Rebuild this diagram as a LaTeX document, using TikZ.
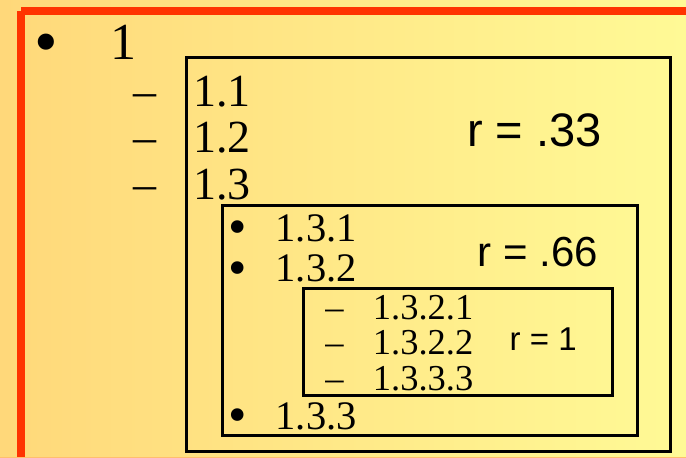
\documentclass[tikz,border=0pt]{standalone}
\usepackage{fontspec}
\setmainfont{Liberation Serif}
\newfontfamily\labfont{Liberation Sans}
\definecolor{bgleft}{RGB}{255,216,122}
\definecolor{bgright}{RGB}{255,250,150}
\definecolor{framered}{RGB}{255,51,0}
\definecolor{edgeorange}{RGB}{255,190,110}
\begin{document}
\begin{tikzpicture}[x=1pt,y=-1pt,
  lbl/.style={anchor=base west,inner sep=0pt},
  symb/.style={anchor=base,inner sep=0pt},
  blt/.style={anchor=base,inner sep=0pt,scale=1.3,text height=0.48em,text depth=0pt},
  rlbl/.style={anchor=base west,inner sep=0pt,font=\labfont},
  boxline/.style={draw=black,line width=3pt},
  fA/.style={font=\fontsize{52}{52}\selectfont},
  fB/.style={font=\fontsize{46}{46}\selectfont},
  fC/.style={font=\fontsize{40.5}{40.5}\selectfont},
  fD/.style={font=\fontsize{36.5}{36.5}\selectfont}]
\useasboundingbox (0,0) rectangle (686,458);
\shade[left color=bgleft,right color=bgright] (0,0) rectangle (686,458);
\draw[framered,line width=8pt] (21,10.5) -- (700,10.5);
\draw[framered,line width=8pt] (21,10.5) -- (21,470);
\draw[edgeorange,line width=1pt] (0,457.5) -- (686,457.5);
% boxes
\draw[boxline] (186,57) rectangle (670,451);
\draw[boxline] (222,205) rectangle (637,435);
\draw[boxline] (303,288) rectangle (612,395);
% level 1
\node[blt,fA] (b1) at (46.7,64.2) {•};
\node[lbl,fA] (t1) at (110,59) {1};
% level 2
\node[symb,fB] (d11) at (145,106) {–};
\node[lbl,fB] (t11) at (193,106) {1.1};
\node[symb,fB] (d12) at (145,152.7) {–};
\node[lbl,fB] (t12) at (193,152.7) {1.2};
\node[symb,fB] (d13) at (145,199.4) {–};
\node[lbl,fB] (t13) at (193,199.4) {1.3};
% level 3
\node[blt,fC] (b131) at (237.5,244.2) {•};
\node[lbl,fC] (t131) at (275.5,241.7) {1.3.1};
\node[blt,fC] (b132) at (237.5,285.5) {•};
\node[lbl,fC] (t132) at (275.5,281.7) {1.3.2};
\node[blt,fC] (b133) at (237.5,432.5) {•};
\node[lbl,fC] (t133) at (275.5,429.3) {1.3.3};
% level 4
\node[symb,fD] (d1321) at (334.5,319.3) {–};
\node[lbl,fD] (t1321) at (372.7,319.3) {1.3.2.1};
\node[symb,fD] (d1322) at (334.5,354.7) {–};
\node[lbl,fD] (t1322) at (372.7,354.7) {1.3.2.2};
\node[symb,fD] (d1333) at (334.5,390) {–};
\node[lbl,fD] (t1333) at (372.7,390) {1.3.3.3};
% r labels
\node[rlbl,font=\labfont\fontsize{47}{47}\selectfont] (r1) at (467,146.7) {r = .33};
\node[rlbl,font=\labfont\fontsize{42}{42}\selectfont] (r2) at (477.3,266.7) {r = .66};
\node[rlbl,font=\labfont\fontsize{33}{33}\selectfont] (r3) at (509.5,350.7) {r = 1};
\end{tikzpicture}
\end{document}
